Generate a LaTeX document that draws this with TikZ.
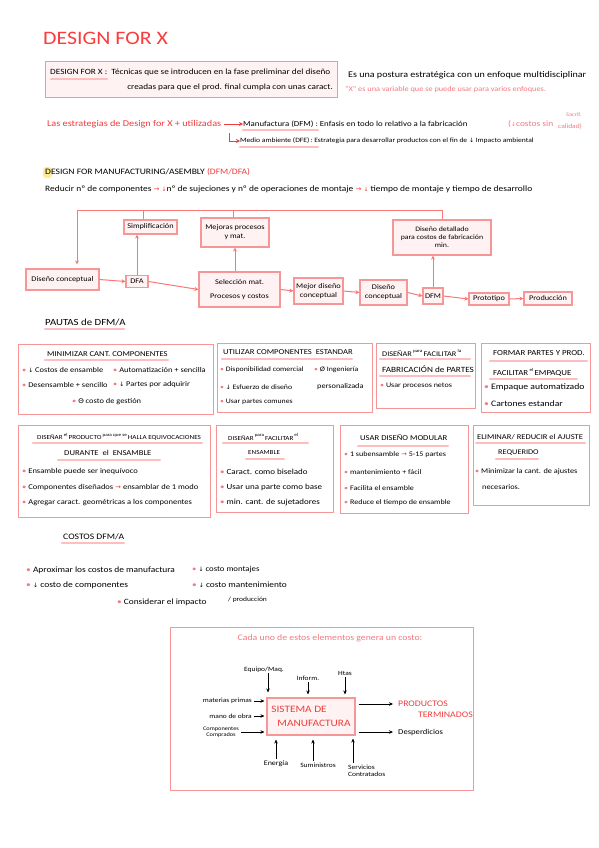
\documentclass[tikz,border=0pt]{standalone}
\usepackage{fontspec}
\setmainfont{Carlito}[FakeStretch=1.15]
\newfontfamily\symf{DejaVu Sans}
\usetikzlibrary{arrows.meta}
\definecolor{titlered}{RGB}{250,60,60}
\definecolor{boxc}{RGB}{246,150,150}
\definecolor{fillc}{RGB}{255,242,242}
\definecolor{ulc}{RGB}{255,190,190}
\definecolor{pinktxt}{RGB}{245,120,130}
\definecolor{redtxt}{RGB}{240,60,60}
\definecolor{hlyel}{RGB}{255,235,150}
\newcommand{\dn}{{\symf\fontsize{6}{6}\selectfont ↓}}
\newcommand{\rdn}{{\color{redtxt}\symf\fontsize{6}{6}\selectfont ↓}}
\newcommand{\rra}{{\color{redtxt}\symf\fontsize{7}{7}\selectfont →}}
\newcommand{\bul}{{\color{pinktxt}\textbullet}\ }
\newcommand{\sps}[1]{\raisebox{1.1ex}{\fontsize{4.5}{4.5}\selectfont #1}}
\begin{document}
\begin{tikzpicture}[x=1pt,y=-1pt,
  txt/.style={anchor=west, inner sep=0pt, font=\fontsize{7.3}{9}\selectfont},
  ttl/.style={anchor=west, inner sep=0pt, font=\fontsize{7.5}{9}\selectfont},
  ul/.style={draw=ulc, line width=2.2pt, line cap=round},
  fbox/.style={draw=boxc, fill=fillc, line width=1.1pt, inner sep=0pt, align=center, font=\fontsize{7.2}{9}\selectfont},
  pbox/.style={draw=boxc, fill=white, line width=1.1pt, inner sep=0pt, anchor=north west},
  arr/.style={draw=boxc!80!red, line width=1pt, -{Stealth[length=4pt,width=4pt]}},
  fline/.style={draw=boxc!80!red, line width=1pt},
  barr/.style={draw=black, line width=0.8pt, -{Stealth[length=4pt,width=3.5pt]}},
  stxt/.style={inner sep=0pt, font=\fontsize{6.5}{7.5}\selectfont, align=center}
]
\useasboundingbox (0,0) rectangle (599,848);
\fill[white] (0,0) rectangle (599,848);

% Title
\node[anchor=west, inner sep=0pt, font=\fontsize{19}{19}\selectfont, text=titlered] (title) at (43,38) {DESIGN FOR X};

% Definition box
\node[pbox, fill=fillc, minimum width=292pt, minimum height=36pt] (defbox) at (45,61) {};
\draw[ul] (51,79) -- (107,79);
\node[txt, font=\fontsize{8}{9}\selectfont] (def1) at (50,72) {DESIGN FOR X :\ \ Técnicas que se introducen en la fase preliminar del diseño};
\node[anchor=east, inner sep=0pt, font=\fontsize{8}{9}\selectfont] (def2) at (333,87) {creadas para que el prod. final cumpla con unas caract.};
\node[txt, font=\fontsize{8.75}{9}\selectfont] (post) at (348,75) {Es una postura estratégica con un enfoque multidisciplinar};
\node[txt, font=\fontsize{7.2}{9}\selectfont, text=pinktxt] (xvar) at (345,89) {“X” es una variable que se puede usar para varios enfoques.};

% Strategies
\node[txt, font=\fontsize{8.9}{9}\selectfont, text=redtxt] (estr) at (47,124) {Las estrategias de Design for X + utilizadas};
\node[txt, font=\fontsize{7.65}{9}\selectfont] (dfm) at (243,124) {Manufactura (DFM)\ : Enfasis en todo lo relativo a la fabricación};
\draw[arr, draw=redtxt, line width=0.8pt] (estr.east) ++(3,0) -- (dfm.west);
\draw[ul] (243,130) -- (318,130);
\node[txt, font=\fontsize{8.2}{9}\selectfont, text=pinktxt] (cost) at (508,124) {(\dn costos sin};
\node[txt, font=\fontsize{5.5}{6}\selectfont, text=pinktxt] (sacr) at (566,115) {Sacrif.};
\node[txt, font=\fontsize{6.5}{7}\selectfont, text=pinktxt] (cal) at (558,127) {calidad)};
\node[txt, font=\fontsize{6.6}{9}\selectfont] (dfe) at (240,141) {Medio ambiente (DFE)\,: Estrategia para desarrollar productos con el fin de \dn\ Impacto ambiental};
\coordinate (lk) at (229,133);
\draw[arr, draw=redtxt, line width=0.8pt] (lk) |- (dfe.west);
\draw[ul] (240,147) -- (318,147);

% DFM/DFA
\fill[hlyel, rounded corners=3pt] (43,167) rectangle (52,178);
\node[txt, font=\fontsize{8.3}{9}\selectfont] (dfmh) at (45,172) {DESIGN FOR MANUFACTURING/ASEMBLY \textcolor{redtxt}{(DFM/DFA)}};
\node[txt, font=\fontsize{8.2}{9}\selectfont] (red) at (45,189) {Reducir nº de componentes \rra\ \rdn nº de sujeciones y nº de operaciones de montaje \rra\ \rdn\ tiempo de montaje y tiempo de desarrollo};

% Flowchart
\node[fbox, minimum width=73pt, minimum height=21pt] (n1) at (62.5,279.5) {Diseño conceptual};
\node[fbox, minimum width=22pt, minimum height=12pt] (n2) at (137,281.5) {DFA};
\node[fbox, minimum width=53pt, minimum height=14pt] (n3) at (150.5,227) {Simplificación};
\node[fbox, minimum width=68pt, minimum height=29pt] (n4) at (235,232.5) {Mejoras procesos\\y mat.};
\node[fbox, minimum width=81pt, minimum height=35pt] (n5) at (239.5,289.5) {Selección mat.\\[5pt]Procesos y costos};
\node[fbox, minimum width=49pt, minimum height=26pt] (n6) at (318.5,291) {Mejor diseño\\conceptual};
\node[fbox, minimum width=47pt, minimum height=25pt] (n7) at (383.5,292.5) {Diseño\\conceptual};
\node[fbox, minimum width=20pt, minimum height=16pt] (n8) at (433,296) {DFM};
\node[fbox, minimum width=98pt, minimum height=35pt, font=\fontsize{6.8}{8}\selectfont] (n9) at (442,237.5) {Diseño detallado\\para costos de fabricación\\min.};
\node[fbox, minimum width=40pt, minimum height=12pt] (n10) at (489,299) {Prototipo};
\node[fbox, minimum width=48pt, minimum height=13pt] (n11) at (548,298.5) {Producción};

\draw[arr] (n1.east) -- (n2.west);
\draw[arr] (n2.north) -- (n2.north |- n3.south);
\draw[arr] (n2.east) -- (n5.west);
\draw[arr] (n4.south |- n5.north) -- (n4.south);
\draw[arr] (n5.east) -- (n6.west);
\draw[arr] (n6.east) -- (n7.west);
\draw[arr] (n7.east) -- (n8.west);
\draw[arr] (n8.north) -- (n8.north |- n9.south);
\draw[arr] (n8.east) -- (n10.west);
\draw[arr] (n10.east) -- (n11.west);
\coordinate (fl) at (77,210);
\coordinate (b1) at (143,210);
\coordinate (b2) at (233,210);
\draw[arr] (n9.north) |- (fl) -- ([yshift=4pt]fl |- n1.north);
\draw[fline] (b1) -- (b1 |- n3.north);
\draw[fline] (b2) -- (b2 |- n4.north);

% Pautas
\node[txt, font=\fontsize{9.4}{9}\selectfont] (paut) at (45,322) {PAUTAS de DFM/A};
\draw[ul] (45,329) -- (124,329);

\node[pbox, minimum width=195pt, minimum height=70pt] (p1) at (18,344) {};
\node[pbox, minimum width=155pt, minimum height=69pt] (p2) at (217,343) {};
\node[pbox, minimum width=99pt, minimum height=65pt] (p3) at (376,343) {};
\node[pbox, minimum width=109pt, minimum height=69pt] (p4) at (481,343) {};
\node[pbox, minimum width=192pt, minimum height=92pt] (p5) at (18,425) {};
\node[pbox, minimum width=117pt, minimum height=87pt] (p6) at (216,425) {};
\node[pbox, minimum width=128pt, minimum height=88pt] (p7) at (340,425) {};
\node[pbox, minimum width=116pt, minimum height=80pt] (p8) at (473,425) {};

% box 1
\draw[ul] (45,360) -- (168,360);
\node[ttl] at (47,354) {MINIMIZAR CANT. COMPONENTES};
\node[txt] at (22,370) {\bul\dn\ Costos de ensamble};
\node[txt] at (113,370) {\bul Automatización + sencilla};
\node[txt] at (22,385) {\bul Desensamble + sencillo};
\node[txt] at (113,385) {\bul\dn\ Partes por adquirir};
\node[txt] at (72,402) {\bul Θ costo de gestión};
% box 2
\draw[ul] (222,359) -- (352,359);
\node[ttl] at (223,352) {UTILIZAR COMPONENTES\ \ ESTANDAR};
\node[txt, font=\fontsize{6.8}{9}\selectfont] at (220,370) {\bul Disponibilidad comercial};
\node[txt, font=\fontsize{6.8}{9}\selectfont] at (314,370) {\bul Ø Ingeniería};
\node[txt, font=\fontsize{6.8}{9}\selectfont] at (220,387) {\bul\dn\ Esfuerzo de diseño};
\node[txt, font=\fontsize{7.2}{9}\selectfont] at (317,387) {personalizada};
\node[txt, font=\fontsize{6.8}{9}\selectfont] at (220,402) {\bul Usar partes comunes};
% box 3
\draw[ul] (380,359) -- (470,359);
\draw[ul] (380,376) -- (470,376);
\node[ttl, font=\fontsize{7.2}{9}\selectfont] at (382,353) {DISEÑAR\,\sps{para}\,FACILITAR\,\sps{la}};
\node[ttl, font=\fontsize{8}{9}\selectfont] at (382,369) {FABRICACIÓN de PARTES};
\node[txt, font=\fontsize{7}{9}\selectfont] at (380,386) {\bul Usar procesos netos};
% box 4
\draw[ul] (490,361) -- (587,361);
\draw[ul] (490,379) -- (577,379);
\node[ttl, font=\fontsize{7.7}{9}\selectfont] at (493,353) {FORMAR PARTES Y PROD.};
\node[ttl, font=\fontsize{7.7}{9}\selectfont] at (493,372) {FACILITAR\,\sps{el}\,EMPAQUE};
\node[txt, font=\fontsize{8.4}{9}\selectfont] at (484,387) {\bul Empaque automatizado};
\node[txt, font=\fontsize{8.4}{9}\selectfont] at (484,404) {\bul Cartones estandar};
% box 5
\draw[ul] (33,443) -- (202,443);
\draw[ul] (58,460) -- (160,460);
\node[ttl, font=\fontsize{6.2}{9}\selectfont] at (37,437) {DISEÑAR\,\sps{el}\,PRODUCTO\,\sps{para que se}\,HALLA EQUIVOCACIONES};
\node[ttl, font=\fontsize{7.5}{9}\selectfont] at (64,453) {DURANTE\ \ el\ \ ENSAMBLE};
\node[txt, font=\fontsize{7.4}{9}\selectfont] at (22,472) {\bul Ensamble puede ser inequívoco};
\node[txt, font=\fontsize{7.4}{9}\selectfont] at (22,488) {\bul Componentes diseñados \rra\ ensamblar de 1 modo};
\node[txt, font=\fontsize{7.4}{9}\selectfont] at (22,503) {\bul Agregar caract. geométricas a los componentes};
% box 6
\draw[ul] (223,443) -- (308,443);
\draw[ul] (246,459) -- (284,459);
\node[ttl, font=\fontsize{6.2}{9}\selectfont] at (228,437) {DISEÑAR\,\sps{para}\,FACILITAR\,\sps{el}};
\node[ttl, font=\fontsize{6.2}{9}\selectfont] at (248,453) {ENSAMBLE};
\node[txt, font=\fontsize{7.8}{9}\selectfont] at (220,472) {\bul Caract. como biselado};
\node[txt, font=\fontsize{7.8}{9}\selectfont] at (220,487) {\bul Usar una parte como base};
\node[txt, font=\fontsize{7.8}{9}\selectfont] at (220,502) {\bul min. cant. de sujetadores};
% box 7
\draw[ul] (358,446) -- (448,446);
\node[ttl] at (360,438) {USAR DISEÑO MODULAR};
\node[txt, font=\fontsize{7}{9}\selectfont] at (344,455) {\bul 1 subensamble \rra\ 5-15 partes};
\node[txt, font=\fontsize{7}{9}\selectfont] at (344,472) {\bul mantenimiento + fácil};
\node[txt, font=\fontsize{7}{9}\selectfont] at (344,488) {\bul Facilita el ensamble};
\node[txt, font=\fontsize{7}{9}\selectfont] at (344,503) {\bul Reduce el tiempo de ensamble};
% box 8
\draw[ul] (476,443) -- (585,443);
\draw[ul] (496,459) -- (538,459);
\node[ttl, font=\fontsize{7.4}{9}\selectfont] at (477,437) {ELIMINAR/ REDUCIR el AJUSTE};
\node[ttl, font=\fontsize{7.2}{9}\selectfont] at (498,453) {REQUERIDO};
\node[txt, font=\fontsize{7.2}{9}\selectfont] at (475,472) {\bul Minimizar la cant. de ajustes};
\node[txt, font=\fontsize{7.2}{9}\selectfont] at (482,487) {necesarios.};

% Costos
\node[txt, font=\fontsize{8.4}{9}\selectfont] (costos) at (63,537) {COSTOS DFM/A};
\draw[ul] (62,543) -- (124,543);
\node[txt, font=\fontsize{8.2}{9}\selectfont] at (26,570) {\bul Aproximar los costos de manufactura};
\node[txt, font=\fontsize{7.6}{9}\selectfont] at (192,570) {\bul\dn\ costo montajes};
\node[txt, font=\fontsize{8.3}{9}\selectfont] at (26,585) {\bul\dn\ costo de componentes};
\node[txt, font=\fontsize{8.1}{9}\selectfont] at (192,585) {\bul\dn\ costo mantenimiento};
\node[txt, font=\fontsize{8.1}{9}\selectfont] at (117,602) {\bul Considerar el impacto};
\node[txt, font=\fontsize{6.5}{9}\selectfont] at (228,600) {/ producción};

% System
\node[pbox, minimum width=303pt, minimum height=163pt] (costbox) at (170,627) {};
\node[inner sep=0pt, font=\fontsize{8.5}{9}\selectfont, text=pinktxt] (cada) at (330,638) {Cada uno de estos elementos genera un costo:};
\node[fbox, minimum width=88pt, minimum height=37pt, font=\fontsize{9.8}{10}\selectfont, text=redtxt, align=left] (sys) at (311,716.5) {SISTEMA DE\\[4pt]\hspace*{6pt}MANUFACTURA};
\node[stxt] (eq) at (264,670) {Equipo/Maq.};
\node[stxt] (inf) at (308,678) {Inform.};
\node[stxt] (htas) at (345,673) {Htas};
\node[stxt, anchor=east] (mp) at (252,701) {materias primas};
\node[stxt, anchor=east] (mo) at (252,716) {mano de obra};
\node[stxt, font=\fontsize{5.5}{6}\selectfont] (cc) at (221,732) {Componentes\\Comprados};
\node[stxt, font=\fontsize{7}{8}\selectfont] (en) at (276,764) {Energía};
\node[stxt] (su) at (318,765) {Suministros};
\node[stxt, align=left, anchor=west] (se) at (348,771) {Servicios\\Contratados};
\node[inner sep=0pt, anchor=west, font=\fontsize{8.5}{9}\selectfont, text=redtxt] (pt1) at (398,704) {PRODUCTOS};
\node[inner sep=0pt, anchor=west, font=\fontsize{8.5}{9}\selectfont, text=redtxt] (pt2) at (418,715) {TERMINADOS};
\node[stxt, anchor=west, font=\fontsize{7.5}{8}\selectfont] (desp) at (398,732) {Desperdicios};

\draw[barr, shorten >=5pt] ([xshift=4pt]eq.south) -- ([xshift=4pt]eq.south |- sys.north);
\draw[barr, shorten >=3pt] ([yshift=-2pt]inf.south) -- (inf.south |- sys.north);
\draw[barr, shorten >=3pt] ([yshift=-2pt]htas.south) -- (htas.south |- sys.north);
\draw[barr, shorten >=2pt] ([xshift=2pt]mp.east) -- (sys.west |- mp.east);
\draw[barr, shorten >=2pt] ([xshift=2pt]mo.east) -- (sys.west |- mo.east);
\draw[barr, shorten >=2pt] ([xshift=2pt]cc.east) -- (sys.west |- cc.east);
\draw[barr, shorten >=4pt] ([yshift=2pt]en.north) -- (en.north |- sys.south);
\draw[barr, shorten >=4pt] ([xshift=-5pt,yshift=2pt]su.north) -- ([xshift=-5pt]su.north |- sys.south);
\draw[barr, shorten >=3pt] ([xshift=5pt,yshift=2pt]se.north west) -- ([xshift=5pt]se.north west |- sys.south);
\draw[barr, shorten <=3pt, shorten >=5pt] (sys.east |- pt1.west) -- (pt1.west);
\draw[barr, shorten <=3pt, shorten >=5pt] (sys.east |- desp.west) -- (desp.west);
\end{tikzpicture}
\end{document}
